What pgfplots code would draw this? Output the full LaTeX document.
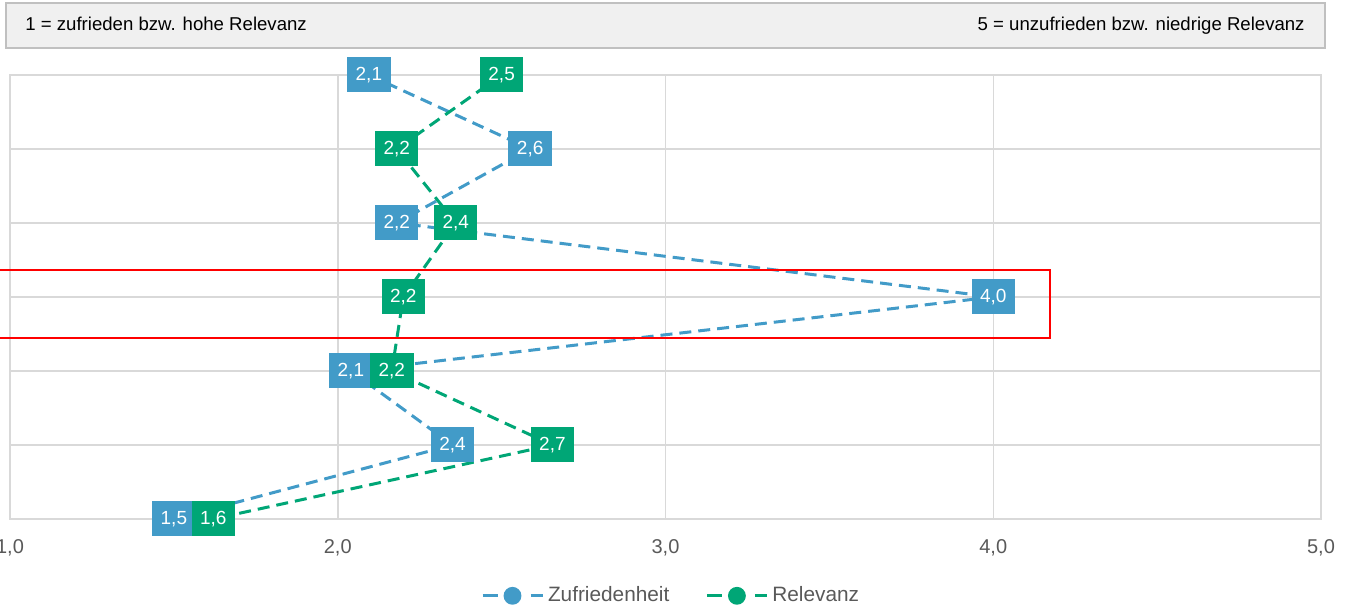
\documentclass[border=0pt]{standalone}
\usepackage{fontspec}
\setmainfont{Liberation Sans}
\usepackage{pgfplots}
\pgfplotsset{compat=1.18}
\definecolor{zufBlue}{HTML}{429BC8}
\definecolor{relGreen}{HTML}{00A676}
\definecolor{gridGray}{HTML}{D9D9D9}
\definecolor{labGray}{HTML}{595959}
\definecolor{headFill}{HTML}{F0F0F0}
\definecolor{headLine}{HTML}{C0C0C0}

% x = Wert, y = Zeile (7 = oben), lab = Beschriftung
\pgfplotstableread{
x      y  lab
2.095  7  2,1
2.587  6  2,6
2.18   5  2,2
4.00   4  4,0
2.04   3  2,1
2.35   2  2,4
1.50   1  1,5
}\zufdata
\pgfplotstableread{
x      y  lab
2.50   7  2,5
2.18   6  2,2
2.36   5  2,4
2.20   4  2,2
2.165  3  2,2
2.655  2  2,7
1.62   1  1,6
}\reldata

\tikzset{
  vlabel/.style={anchor=center, text=white, inner sep=0pt,
    minimum width=21.7pt, minimum height=17.5pt,
    font=\fontsize{9.5}{11}\selectfont},
  dashline/.style={line width=1.5pt, dash pattern=on 6pt off 3.5pt}
}

\begin{document}
\begin{tikzpicture}
\begin{axis}[
  at={(0,0)}, anchor=south west,
  scale only axis, width=655.5pt, height=222pt,
  xmin=1, xmax=5, ymin=1, ymax=7,
  xtick={1,2,3,4,5}, ytick={1,...,7}, yticklabels=\empty,
  major tick length=0pt,
  grid=major, grid style={gridGray, line width=0.75pt},
  axis line style={gridGray, line width=0.75pt},
  xticklabel style={/pgf/number format/fixed, /pgf/number format/fixed zerofill,
    /pgf/number format/precision=1, /pgf/number format/use comma,
    /pgf/number format/assume math mode=true,
    font=\fontsize{10}{12}\selectfont, text=labGray, yshift=-6.8pt},
  clip=false,
  legend style={at={(0.505,-0.173)}, anchor=center, draw=none, fill=none,
    legend columns=2, font=\fontsize{10.4}{12}\selectfont, text=labGray,
    /tikz/every even column/.append style={column sep=16pt}},
  legend image code/.code={
    \draw[#1, solid] (0pt,0pt) -- (7.5pt,0pt) (24pt,0pt) -- (30pt,0pt);
    \draw[#1] plot coordinates {(15pt,0pt)};
  },
]
\addplot[zufBlue, dashline, mark=*, mark size=3.7pt, mark options={solid},
  nodes near coords, point meta=explicit symbolic,
  nodes near coords style={vlabel, fill=zufBlue}]
  table[x=x, y=y, meta=lab] {\zufdata};
\addlegendentry{Zufriedenheit}
\addplot[relGreen, dashline, mark=*, mark size=3.7pt, mark options={solid},
  nodes near coords, point meta=explicit symbolic,
  nodes near coords style={vlabel, fill=relGreen}]
  table[x=x, y=y, meta=lab] {\reldata};
\addlegendentry{Relevanz}
\end{axis}

% Anmerkungen in Pixelkoordinaten der Vorlage
\begin{scope}[x=0.5pt, y=-0.5pt, shift={(-5pt,259.5pt)}]
  \draw[red, line width=1.25pt] (-10,270) rectangle (1050,338);
  \draw[headLine, fill=headFill, line width=1pt] (6,3) rectangle (1325,48);
  \node[anchor=base west, inner sep=0pt, font=\fontsize{9.3}{11}\selectfont] at (25,31)
    {1 = zufrieden bzw. hohe Relevanz};
  \node[anchor=base east, inner sep=0pt, font=\fontsize{9.3}{11}\selectfont] at (1305,31)
    {5 = unzufrieden bzw. niedrige Relevanz};
  \pgfresetboundingbox
  \useasboundingbox (0,0) rectangle (1348,608);
\end{scope}
\end{tikzpicture}
\end{document}
